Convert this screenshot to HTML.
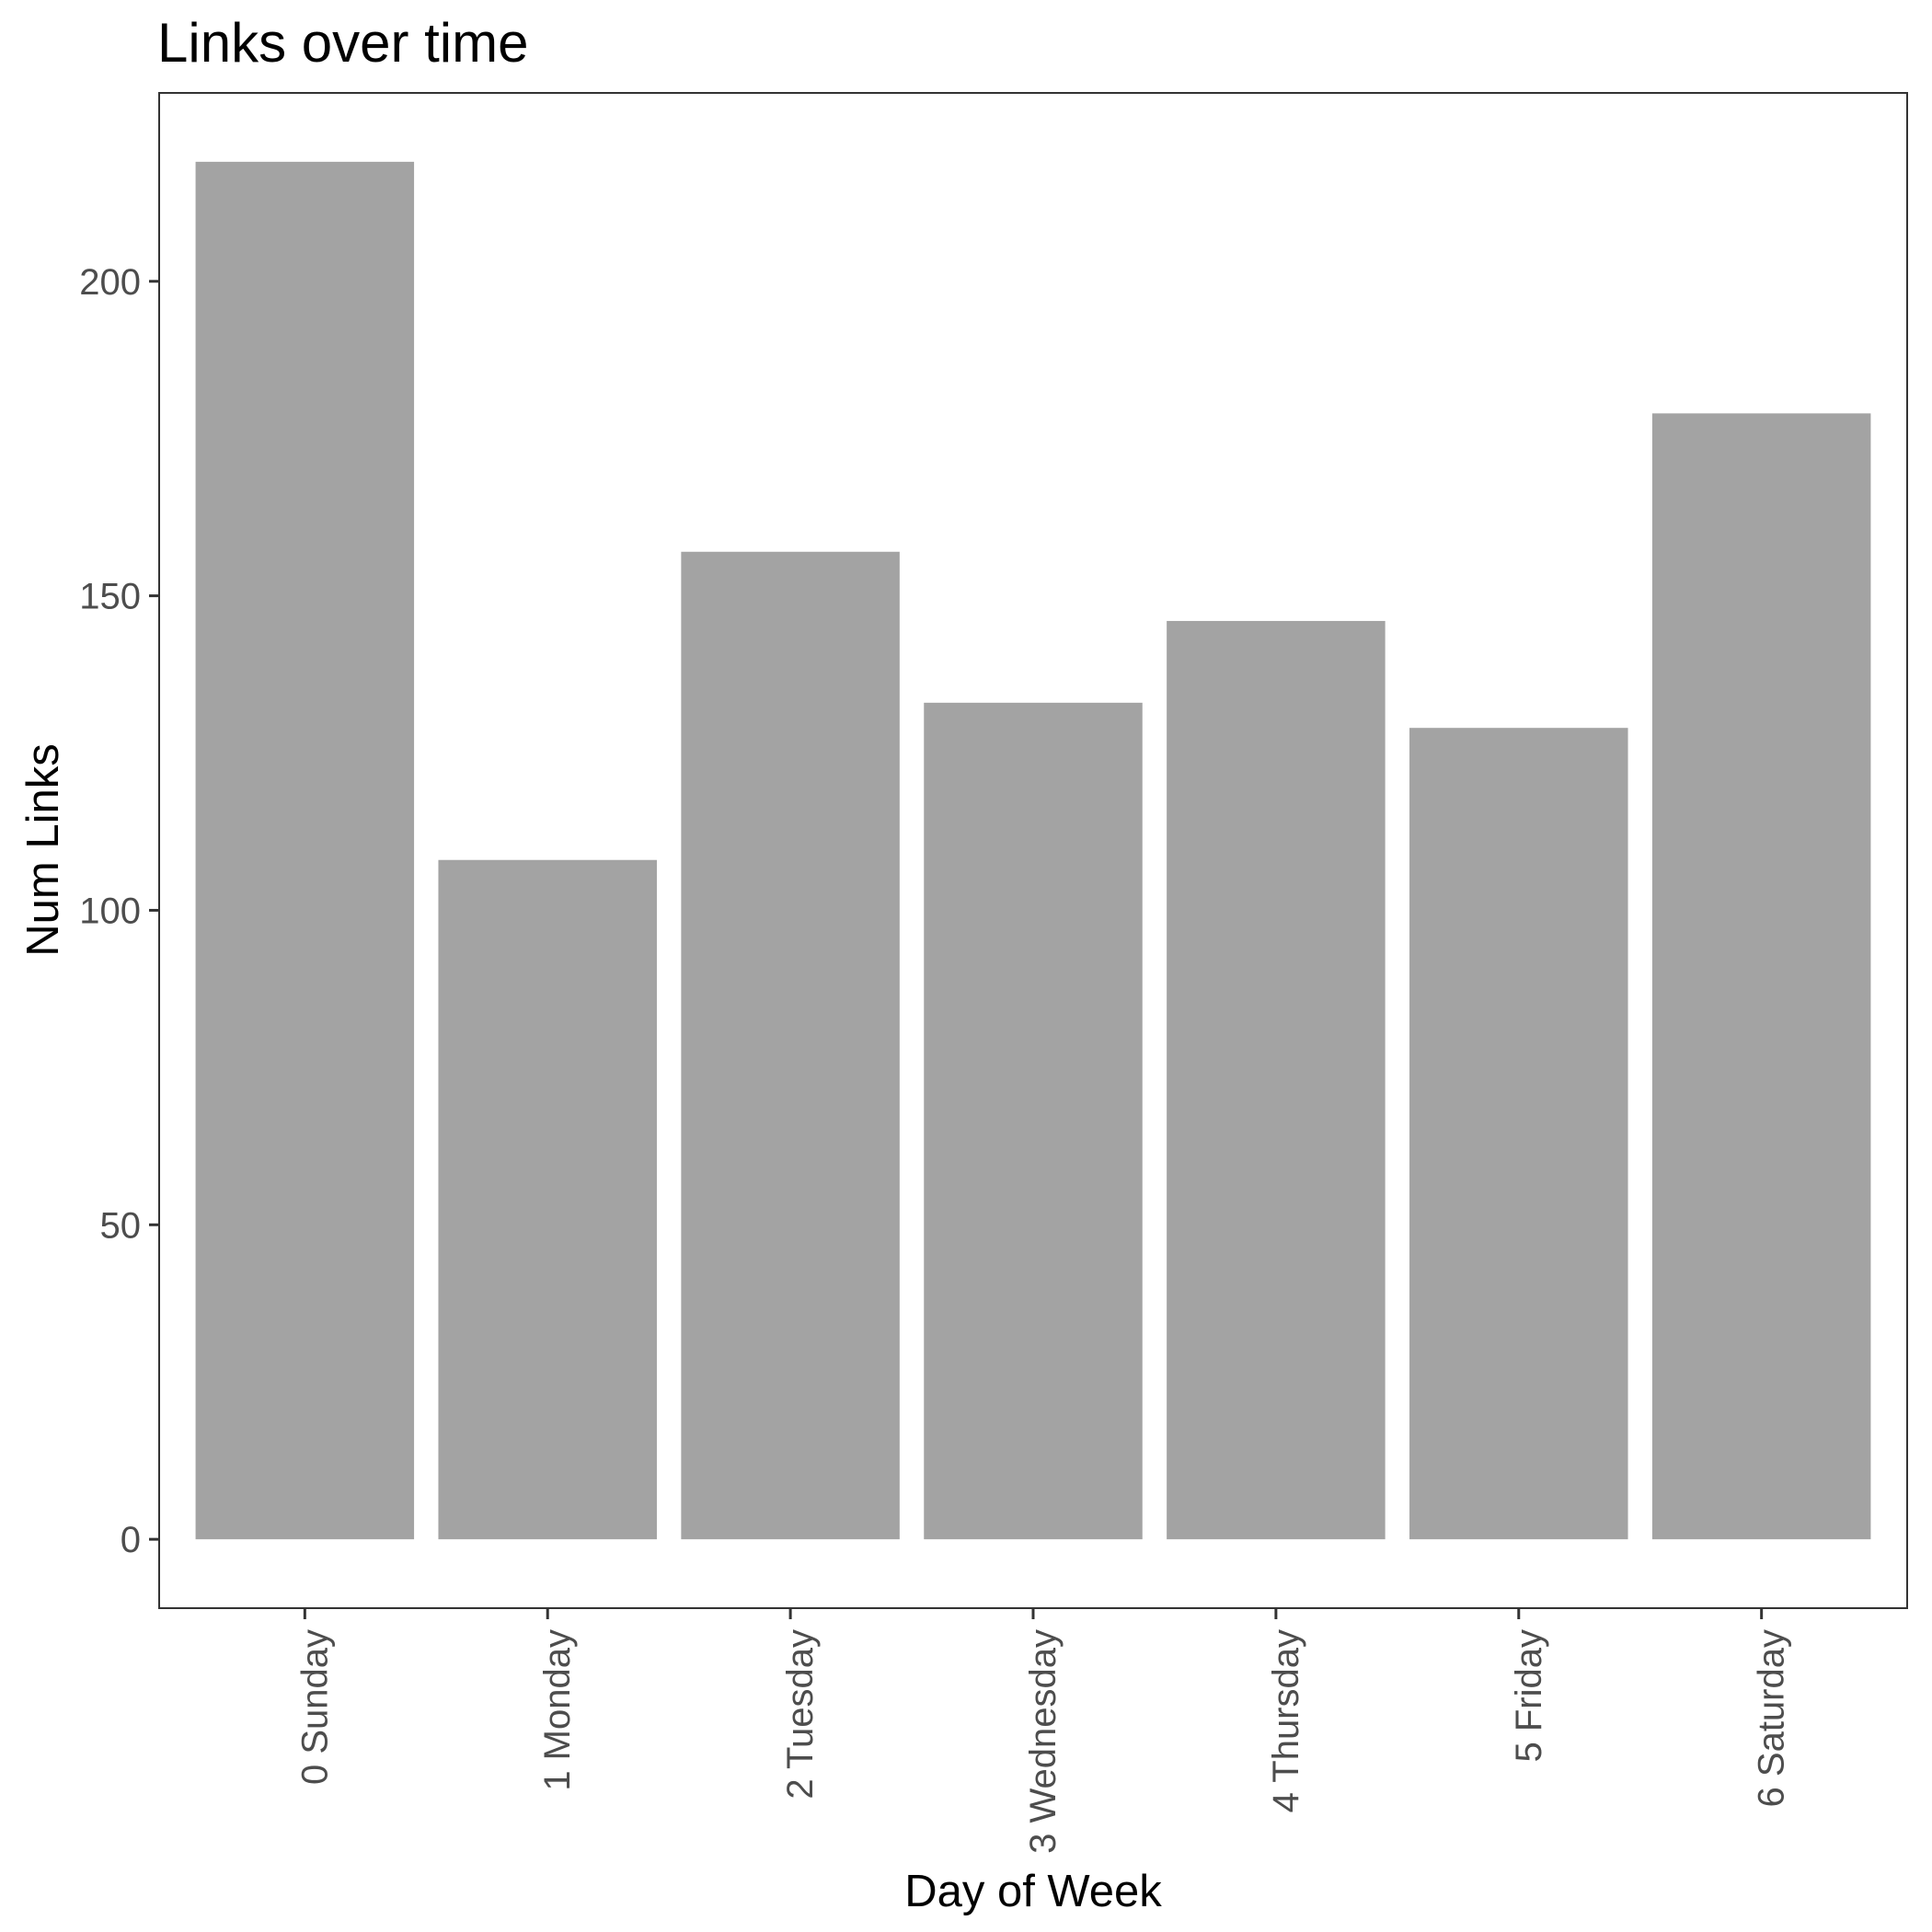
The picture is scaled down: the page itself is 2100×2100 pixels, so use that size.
<!DOCTYPE html>
<html><head><meta charset="utf-8"><style>
html,body{margin:0;padding:0;background:#fff;}
svg{display:block;font-family:"Liberation Sans",Arial,sans-serif;}
</style></head><body>
<svg id="chart" width="2100" height="2100" viewBox="0 0 2100 2100">
<rect x="0" y="0" width="2100" height="2100" fill="#fff"/>
<text x="171" y="67" font-size="60" fill="#000">Links over time</text>
<g id="bars"></g>
<g id="yaxis"></g>
<g id="xaxis"></g>
<rect x="173" y="101" width="1900" height="1647" fill="none" stroke="#333" stroke-width="2"/>
<text x="1123" y="2072" font-size="49" text-anchor="middle" fill="#000">Day of Week</text>
<text transform="translate(63,924) rotate(-90)" font-size="49" text-anchor="middle" fill="#000">Num Links</text>
</svg>
<script>
const categories = ["0 Sunday","1 Monday","2 Tuesday","3 Wednesday","4 Thursday","5 Friday","6 Saturday"];
const values = [219, 108, 157, 133, 146, 129, 179];
const yTicks = [0, 50, 100, 150, 200];
const yTickLabels = ["0","50","100","150","200"];

const NS = "http://www.w3.org/2000/svg";
const panel = {left:173, right:2073, top:101, bottom:1748};
const yMax = Math.max(...values);
const yLo = -0.05*yMax, yHi = yMax*1.05;
function yScale(v){ return panel.bottom - (v - yLo)/(yHi - yLo)*(panel.bottom - panel.top); }
const n = categories.length;
const band = (panel.right - panel.left)/(n + 0.2);
function xScale(i){ return panel.left + band*0.6 + i*band; }
const barW = band*0.9;

const bars = document.getElementById('bars');
values.forEach((v,i)=>{
  const r = document.createElementNS(NS,'rect');
  r.setAttribute('x', xScale(i) - barW/2);
  r.setAttribute('y', yScale(v));
  r.setAttribute('width', barW);
  r.setAttribute('height', yScale(0) - yScale(v));
  r.setAttribute('fill', '#a3a3a3');
  
  
  bars.appendChild(r);
});

const ya = document.getElementById('yaxis');
yTicks.forEach((t,i)=>{
  const y = yScale(t);
  const l = document.createElementNS(NS,'line');
  l.setAttribute('x1', panel.left - 11); l.setAttribute('x2', panel.left);
  l.setAttribute('y1', y); l.setAttribute('y2', y);
  l.setAttribute('stroke', '#333'); l.setAttribute('stroke-width', '3');
  
  
  ya.appendChild(l);
  const tx = document.createElementNS(NS,'text');
  tx.setAttribute('x', panel.left - 20); tx.setAttribute('y', y + 14);
  tx.setAttribute('text-anchor', 'end'); tx.setAttribute('font-size', '40');
  tx.setAttribute('fill', '#4d4d4d');
  tx.textContent = yTickLabels[i];
  
  
  ya.appendChild(tx);
});

const xa = document.getElementById('xaxis');
categories.forEach((c,i)=>{
  const x = xScale(i);
  const l = document.createElementNS(NS,'line');
  l.setAttribute('x1', x); l.setAttribute('x2', x);
  l.setAttribute('y1', panel.bottom); l.setAttribute('y2', panel.bottom + 12);
  l.setAttribute('stroke', '#333'); l.setAttribute('stroke-width', '3');
  
  
  xa.appendChild(l);
  const tx = document.createElementNS(NS,'text');
  tx.setAttribute('transform', 'translate(' + (x + 24) + ',' + (panel.bottom + 23) + ') rotate(-90)');
  tx.setAttribute('text-anchor', 'end'); tx.setAttribute('font-size', '40');
  tx.setAttribute('fill', '#4d4d4d');
  tx.textContent = c;
  
  
  xa.appendChild(tx);
});
</script>
</body></html>
